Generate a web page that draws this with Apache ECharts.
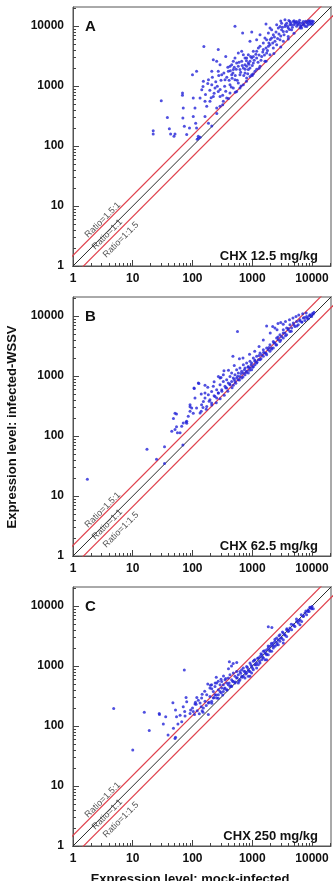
<!DOCTYPE html>
<html><head><meta charset="utf-8">
<script src="https://cdn.jsdelivr.net/npm/echarts@6/dist/echarts.min.js"></script>
<style>html,body{margin:0;padding:0;background:#fff}#c{width:333px;height:881px}</style>
</head><body><div id="c"></div>
<script>
const panelLetters = ['A', 'B', 'C'];
const doseLabels = ['CHX 12.5 mg/kg', 'CHX 62.5 mg/kg', 'CHX 250 mg/kg'];
const ratioValues = [1.5, 1, 1 / 1.5];
const ratioTexts = ['Ratio=1.5:1', 'Ratio=1:1', 'Ratio=1:1.5'];
const axisMin = 1, axisMax = 20800;
const xTitle = 'Expression level: mock-infected';
const yTitle = 'Expression level: infected-WSSV';

const pointsA = [
[22,180],[22,158],[30,570],[38,300],[41,195],[43,158],[51,158],[49,145],[68,700],[68,764],[70,430],[69,293],[73,213],[80,155],[89,200],
[100,1550],[117,1760],[103,630],[110,430],[103,310],[113,240],[117,200],[125,145],[134,140],[143,870],[134,630],[152,1200],[155,4550],[162,556],[173,460],[162,310],[185,240],[210,215],[196,556],[185,1280],[210,1050],[223,670],[210,1760],[223,2750],[238,926],[254,2580],[254,430],[270,815],[270,1760],[270,4050],[289,2270],[289,670],[289,460],[308,1550],[328,556],[350,1280],[360,3100],[373,631],[398,1760],[424,2130],[424,1050],[424,765],[453,1550],[482,2580],[482,926],[514,1280],[514,9900],[548,2420],[548,815],[584,1120],[623,1550],[623,926],[665,3790],[690,7650],[709,2000],[709,1050],[757,2930],[806,2130],[806,1360],[860,3330],[860,1880],[917,5560],[917,2580],[917,1450],[980,7950],[980,1550],[1042,3790],[1042,2420],[1042,1600],[1110,1760],[1185,5900],[1185,2930],[1185,1900],[1265,4300],[1349,7170],[1349,2130],[1440,3100],[1532,4050],[1630,6310],[1630,2580],[1700,10800],[1742,3550],[1860,4600],[1982,3330],[2110,8700],[2253,7170],[2253,4300],[2400,5560],[2563,4890],[2730,9260],[2913,5900],[3100,11200],[3311,5560],[3311,8150],[3530,12700],[3767,8150],[4000,6700],[4283,10520],[4560,8700],[4866,11960],[5535,9900],[6295,11200],[6700,9260],[7161,11960],[7640,9900],[8143,11600],[8700,10520],[9262,12300],[10520,11960],
[2563,10520],[2913,9880],[3100,8700],[3530,9880],[3767,11200],[4000,9260],[4283,11960],[4560,10520],[5190,11200],[5535,11960],[5900,10520],[6295,9260],[7161,10520],[8143,9880],[9262,11200],[9870,11600],[10250,10800],[8680,12300],
[584,2130],[665,2580],[757,2270],[806,2930],[860,2420],[917,2000],[980,2930],[757,1650],[623,1880],[482,1880],[453,2270],[514,2930],[584,3550],[709,3330],[1042,3100],[1185,3790],[1349,4600],[1532,5230],[1742,5900],[1982,4890],[2110,6310],[1860,7650],[1982,9260],
[150,980],[165,720],[180,1100],[195,850],[205,640],[215,1400],[230,760],[245,1180],[260,990],[275,1500],[290,880],[300,1250],[320,700],[335,1650],[345,990],[360,820],[375,1400],[390,2050],[410,1250],[430,1800],[445,960],[460,1350],[475,1650],[500,2050],[520,1500],[540,1900],[560,1250],[600,2500],[640,1700],[680,2200],[720,1500],[760,1900],[800,2650],[840,1600],[880,2300],[940,3100],[1000,2200],[1080,2700],[1150,3400],[1250,2500],[1300,3300],[1400,2700],[1500,3700],[1600,3300],[1700,4300],[1800,3900],[1900,5200],[2000,6000],[2200,5200],[2350,6600],[2500,8000],[2650,6200],[2800,7400],[3000,6800],[3200,9600],[3400,7200],[3600,10500],[3900,9900],[4200,8800],[4400,11300],[4700,9600],[5000,10500],[5300,11700],[5700,10900],[6000,11600],[6500,10200],[6900,11300],[7400,10800],[7800,12000],[8400,11100],[9000,11900],[9600,10700],[10000,12100],[5000,12300],[6200,12500],[4100,12400],[3000,12200],
[120,130],[125,135],[255,350],[320,490],[400,620],[520,790],[650,1000],[800,1200],[1000,1500],[1300,1980],[1700,2600],[2300,3500],[3000,4500],[4000,6100],[5000,7600],[6500,9800]
];

const pointsB = [
[1.74,19],[17.3,60],[25,41],[34,66],[34,35],[69,71],[45,120],[54,143],[48,197],[51,239],[62,114],[80,163],[103,239],[107,623],[128,755],[91,308],
[51,128],[54,232],[56,114],[78,172],[66,145],[70,165],[80,176],[85,213],[91,258],[97,293],[91,333],[106,631],[125,764],[110,430],[117,293],[134,242],[142,333],[152,378],[162,521],[162,430],[173,312],[184,489],[196,403],[209,555],[209,355],[223,673],[238,458],[254,592],[254,430],[271,521],[289,717],[289,926],[308,592],[328,815],[328,1050],[350,673],[373,869],[373,631],[398,764],[424,987],[424,717],[452,1120],[452,815],[482,926],[482,700],[514,1050],[514,815],[548,1280],[548,926],[584,1120],[584,869],[623,1360],[623,987],[665,1200],[665,926],[709,1550],[709,1120],[756,1360],[756,1050],[806,1650],[806,1200],[859,1450],[859,1120],[916,1760],[916,1360],[977,1650],[977,1280],[1042,2000],[1042,1450],[1111,1760],[1111,1550],[1185,2130],[1185,1650],[1264,1870],[1347,2420],[1347,1870],[1436,2270],[1532,2750],[1532,2130],[1633,2420],[1741,2930],[1741,2270],[1857,2750],[1980,3330],[1980,2580],[2111,2930],[2251,3780],[2251,2930],[2400,3550],[2560,4300],[2560,3330],[2730,4040],[2910,4890],[2910,3780],[3103,4580],[3309,5920],[3309,4300],[3528,5210],[3762,6310],[3762,4890],[4011,5920],[4277,7170],[4277,5550],[4560,6310],[4862,7640],[5184,6730],[5528,8150],[5894,7170],[6284,8690],[6700,7950],[7144,9260],[7617,8400],[8122,9870],[8660,9030],[9233,10520],[9845,9870],[10497,10800],[10800,11600],
[566,5550],[475,2130],[610,1950],[336,1230],[162,700],[271,987],
[1740,6800],[2200,6700],[1530,3980],[2000,5200],[2400,6300],[2700,7500],[3000,7800],[1300,3100],[1100,2600],[900,2300],[700,2000],[500,1500],[400,1250],[300,950],[230,800],[180,650],[140,500],[2600,5900],[3300,7300],[3600,8100],[4200,8700],[4800,9300],[5400,9800],[6000,10400],[7000,10900],[8000,11300],
[140,260],[150,300],[170,280],[190,380],[210,330],[230,470],[250,360],[270,520],[290,420],[310,560],[340,480],[360,640],[390,560],[420,740],[460,640],[500,880],[530,760],[570,990],[610,860],[650,1100],[700,960],[740,1280],[790,1150],[850,1400],[900,1250],[960,1550],[1020,1400],[1100,1850],[1200,1700],[1300,2200],[1400,1950],[1550,2500],[1700,2400],[1900,3000],[2100,2800],[2300,3600],[2500,3300],[2700,4500],[3000,4000],[3300,5200],[3600,4700],[4000,6200],[4500,5600],[5000,7100],[5600,6800],[6200,8300],[6800,8000],[7500,9500],[8300,9200],[9000,10000],[9500,10300],[10200,11000]
];

const pointsC = [
[4.8,197],[15.6,169],[18.9,84],[10,40],[27.8,162],[28,155],[32.5,108],[35.6,143],[39,71],[47,244],[48,92],[51,62],[52,65],[52,185],[54,143],[57,108],[66,118],[73,857],[70,210],[74,174],[80,254],[91,162],[103,175],[78,300],[93,185],[110,232],[62,152],[75,147],
[100,200],[108,155],[115,230],[120,180],[125,270],[130,160],[140,210],[118,300],[145,180],[112,250],
[134,242],[142,293],[152,200],[162,258],[173,333],[184,155],[184,242],[196,430],[196,312],[209,489],[209,258],[223,378],[223,293],[238,458],[238,333],[254,521],[254,293],[271,403],[271,333],[289,489],[289,378],[308,430],[308,555],[328,489],[328,378],[350,592],[350,430],[373,521],[373,403],[398,631],[398,489],[424,717],[424,458],[452,592],[452,458],[482,764],[482,555],[514,673],[514,521],[548,631],[548,815],[584,717],[584,521],[623,815],[623,592],[665,673],[665,869],[709,926],[709,673],[756,815],[756,631],[806,987],[806,764],[859,869],[859,673],[916,1120],[916,815],[977,987],[977,764],[1042,1200],[1042,869],[1111,1050],[1111,1280],[1185,1120],[1185,926],[1264,1360],[1264,1050],[1347,1450],[1347,1120],[1436,1550],[1436,1280],[1532,1760],[1532,1360],[1633,1650],[1633,1280],[1741,1870],[1741,1550],[1857,2000],[1857,1550],[1980,2130],[1980,1760],[2111,2270],[2111,1760],[2251,2420],[2251,2000],[2400,2580],[2400,2130],[2560,2930],[2560,2270],[2730,2750],[2730,2270],[2910,3330],[2910,2580],[3103,2930],[3309,3550],[3309,2750],[3528,3330],[3762,4040],[3762,3120],[4011,3780],[4277,4300],[4560,4040],[4862,4890],[5184,4580],[5528,5550],[5894,5210],[6284,5920],[6700,5550],[7144,6730],[7617,7640],[8122,7170],[8660,8690],[8950,8150],[9450,9450],[10000,9870],[10497,9050],[9845,9050],
[1857,4520],[2130,4400],[414,1180],[480,1100],
[916,673],[1741,1280],[3309,2420],[6284,4890],
[150,170],[170,220],[190,250],[210,240],[230,300],[250,330],[270,290],[300,360],[320,330],[340,420],[380,400],[410,520],[440,470],[470,560],[520,540],[560,640],[600,560],[640,760],[680,650],[730,820],[780,740],[830,950],[880,820],[950,1050],[1010,920],[1080,1250],[1150,1050],[1230,1350],[1320,1200],[1400,1600],[1500,1400],[1600,1800],[1720,1600],[1850,2150],[1950,1850],[2100,2400],[2250,2150],[2400,2800],[2600,2450],[2800,3200],[3000,2900],[3200,3700],[3500,3300],[3800,4200],[4100,3900],[4500,5000],[5000,4700],[5500,6100],[6000,5700],[6600,7200],[7200,6800],[7900,8300],[8500,8100],[9200,9600],[9800,9300],
[200,480],[240,520],[270,560],[300,600],[330,680],[360,620],[250,650],[180,500],[160,380],[145,340],[210,420],[400,900],[450,1000],[550,1150]
];

const panels = [pointsA, pointsB, pointsC];
const FONT = "'Liberation Sans', Arial, Helvetica, sans-serif";
const gridTops = [7, 297, 587];
const gridLeft = 73, gridW = 258, gridH = 259;

// minor tick positions (2..9 per decade), on a helper axis in log10 units
const minorLog = [];
for (let d = 0; d < 5; d++) for (let k = 2; k <= 9; k++) {
  const v = d + Math.log10(k);
  if (v < Math.log10(axisMax)) minorLog.push(v);
}

const chart = echarts.init(document.getElementById('c'), null, {renderer: 'canvas'});
const grid = [], xAxis = [], yAxis = [], series = [];
const lineColors = ['#e0404c', '#2a2a2a', '#e0404c'];
const lineWidths = [1.2, 1, 1.2];

panels.forEach((pts, i) => {
  grid.push({left: gridLeft, top: gridTops[i], width: gridW, height: gridH, show: true,
    borderColor: '#555', borderWidth: 1, backgroundColor: 'transparent'});
  const lbl = {fontFamily: FONT, fontWeight: 'bold', fontSize: 12, color: '#111',
    showMaxLabel: false, formatter: v => String(Math.round(v))};
  xAxis.push({type: 'log', logBase: 10, gridIndex: i, min: axisMin, max: axisMax, position: 'bottom',
    axisLine: {show: true, lineStyle: {color: '#555', width: 1}},
    axisTick: {show: true, inside: true, length: 6, lineStyle: {color: '#444'}},
    axisLabel: Object.assign({margin: 7}, lbl), splitLine: {show: false}});
  xAxis.push({type: 'value', gridIndex: i, min: 0, max: Math.log10(axisMax), position: 'bottom',
    axisLine: {show: false}, axisLabel: {show: false}, splitLine: {show: false},
    axisTick: {show: true, inside: true, length: 3, customValues: minorLog, lineStyle: {color: '#444'}}});
  yAxis.push({type: 'log', logBase: 10, gridIndex: i, min: axisMin, max: axisMax, position: 'left',
    axisLine: {show: true, lineStyle: {color: '#555', width: 1}},
    axisTick: {show: true, inside: true, length: 6, lineStyle: {color: '#444'}},
    axisLabel: Object.assign({margin: 9}, lbl), splitLine: {show: false}});
  yAxis.push({type: 'value', gridIndex: i, min: 0, max: Math.log10(axisMax), position: 'left',
    axisLine: {show: false}, axisLabel: {show: false}, splitLine: {show: false},
    axisTick: {show: true, inside: true, length: 3, customValues: minorLog, lineStyle: {color: '#444'}}});

  ratioValues.forEach((r, k) => {
    series.push({type: 'line', xAxisIndex: 2 * i, yAxisIndex: 2 * i, silent: true, showSymbol: false,
      symbol: 'none', clip: true, z: 2,
      lineStyle: {color: lineColors[k], width: lineWidths[k]},
      data: [[axisMin / 10, axisMin / 10 * r], [axisMax * 10, axisMax * 10 * r]]});
  });
  series.push({type: 'scatter', xAxisIndex: 2 * i, yAxisIndex: 2 * i, symbol: 'circle', symbolSize: 3,
    itemStyle: {color: '#2424d8'}, z: 3, silent: true, data: pts});
});

chart.setOption({animation: false, grid, xAxis, yAxis, series});

// text annotations
const graphic = [];
const anchorX = [3.5, 3.55, 5.1];
const perp = [4, -2, -8];
panels.forEach((pts, i) => {
  const top = gridTops[i];
  graphic.push({type: 'text', left: 85, top: top + 12, style: {text: panelLetters[i],
    font: "bold 15px " + FONT, fill: '#111'}});
  graphic.push({type: 'text', x: 318, y: top + 249, style: {text: doseLabels[i],
    font: "bold 13px " + FONT, fill: '#111', align: 'right', verticalAlign: 'middle'}});
  ratioValues.forEach((r, k) => {
    const p = chart.convertToPixel({xAxisIndex: 2 * i, yAxisIndex: 2 * i}, [anchorX[k], anchorX[k] * r]);
    const d = perp[k];
    graphic.push({type: 'text', x: p[0] - d * 0.7071, y: p[1] - d * 0.7071, rotation: Math.PI / 4, z: 5,
      style: {text: ratioTexts[k], font: "9px " + FONT, fill: '#555', align: 'center', verticalAlign: 'middle'}});
  });
});
graphic.push({type: 'text', x: 12, y: 427, rotation: Math.PI / 2,
  style: {text: yTitle, font: "bold 13px " + FONT, fill: '#111', align: 'center', verticalAlign: 'middle'}});
graphic.push({type: 'text', x: 190, y: 873,
  style: {text: xTitle, font: "bold 13px " + FONT, fill: '#111', align: 'center', verticalAlign: 'top'}});
chart.setOption({graphic});
</script>
</body></html>
